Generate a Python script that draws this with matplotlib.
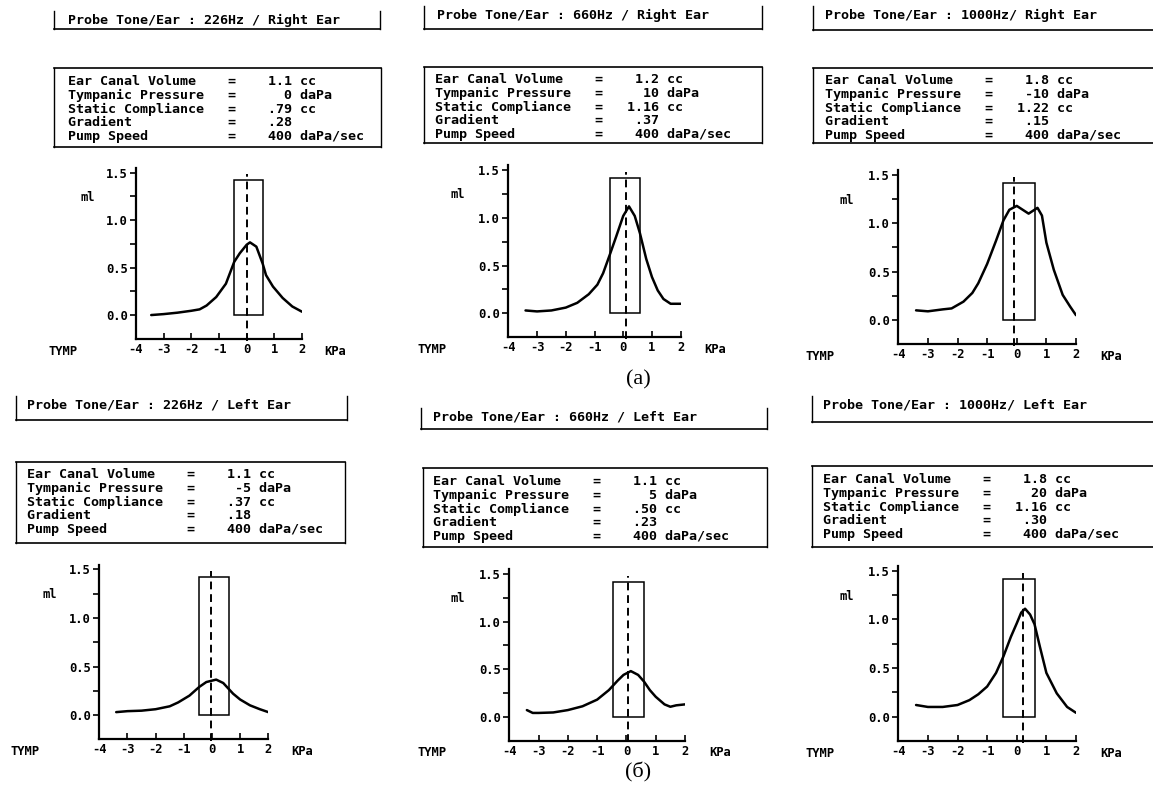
import matplotlib
matplotlib.use('Agg')
import matplotlib.pyplot as plt
from matplotlib.patches import Rectangle
from matplotlib.lines import Line2D

plt.rcParams['axes.unicode_minus'] = False
MONO = 'DejaVu Sans Mono'

# --- data (pressure kPa -> compliance ml) ---
probe_tones = ['226Hz / ', '660Hz / ', '1000Hz/ ', '226Hz / ', '660Hz / ', '1000Hz/ ']
ears = ['Right Ear', 'Right Ear', 'Right Ear', 'Left Ear', 'Left Ear', 'Left Ear']

ear_canal_volume = ['1.1', '1.2', '1.8', '1.1', '1.1', '1.8']
tympanic_pressure = [0, 10, -10, -5, 5, 20]          # daPa
static_compliance = ['.79', '1.16', '1.22', '.37', '.50', '1.16']
gradient = ['.28', '.37', '.15', '.18', '.23', '.30']
pump_speed = ['400', '400', '400', '400', '400', '400']

p1_x = [-3.45, -3.0, -2.5, -2.0, -1.7, -1.45, -1.1, -0.75, -0.45, -0.25, 0.0, 0.12, 0.35, 0.58, 0.7, 0.95, 1.3, 1.65, 2.0]
p1_y = [0.0, 0.01, 0.025, 0.045, 0.06, 0.10, 0.19, 0.33, 0.56, 0.65, 0.74, 0.765, 0.72, 0.54, 0.42, 0.30, 0.18, 0.09, 0.035]

p2_x = [-3.4, -3.0, -2.5, -2.0, -1.6, -1.2, -0.9, -0.7, -0.46, -0.25, 0.0, 0.2, 0.4, 0.58, 0.8, 1.0, 1.2, 1.4, 1.65, 2.0]
p2_y = [0.03, 0.02, 0.03, 0.06, 0.11, 0.20, 0.30, 0.42, 0.62, 0.80, 1.02, 1.12, 1.02, 0.84, 0.57, 0.38, 0.24, 0.15, 0.10, 0.10]

p3_x = [-3.4, -3.0, -2.5, -2.2, -1.8, -1.5, -1.3, -1.0, -0.7, -0.45, -0.25, 0.0, 0.2, 0.4, 0.55, 0.7, 0.85, 1.0, 1.25, 1.55, 1.8, 2.0]
p3_y = [0.10, 0.09, 0.11, 0.12, 0.19, 0.28, 0.38, 0.58, 0.82, 1.03, 1.14, 1.18, 1.14, 1.10, 1.13, 1.16, 1.08, 0.80, 0.52, 0.26, 0.14, 0.05]

p4_x = [-3.4, -3.0, -2.5, -2.0, -1.5, -1.2, -0.8, -0.45, -0.2, 0.15, 0.4, 0.75, 1.0, 1.35, 1.7, 2.0]
p4_y = [0.03, 0.04, 0.045, 0.06, 0.09, 0.13, 0.20, 0.29, 0.34, 0.365, 0.33, 0.22, 0.16, 0.10, 0.06, 0.03]

p5_x = [-3.4, -3.2, -3.0, -2.5, -2.0, -1.5, -1.0, -0.6, -0.3, -0.1, 0.15, 0.4, 0.6, 0.8, 1.0, 1.3, 1.5, 1.7, 2.0]
p5_y = [0.07, 0.04, 0.04, 0.045, 0.07, 0.11, 0.18, 0.28, 0.38, 0.44, 0.48, 0.44, 0.37, 0.28, 0.21, 0.13, 0.105, 0.12, 0.13]

p6_x = [-3.4, -3.0, -2.5, -2.0, -1.6, -1.3, -1.0, -0.7, -0.45, -0.2, 0.0, 0.15, 0.28, 0.45, 0.6, 0.78, 1.0, 1.35, 1.7, 2.0]
p6_y = [0.12, 0.10, 0.10, 0.12, 0.17, 0.23, 0.31, 0.45, 0.62, 0.82, 0.96, 1.07, 1.11, 1.05, 0.95, 0.72, 0.45, 0.24, 0.10, 0.04]

curves = [(p1_x, p1_y), (p2_x, p2_y), (p3_x, p3_y), (p4_x, p4_y), (p5_x, p5_y), (p6_x, p6_y)]

x_ticks = [-4, -3, -2, -1, 0, 1, 2]
y_ticks = [0.0, 0.5, 1.0, 1.5]
y_ticklabels = ['0.0', '0.5', '1.0', '1.5']
box_x = (-0.45, 0.6)   # normal range box
box_top = 1.42

# --- layout in pixels (figure is 1153 x 786) ---
W, H = 1153, 786
def fx(px):
    return px / W
def fy(py):
    return 1 - py / H

# axes: x at -4, x at 2, y at top (1.55), y at bottom (-0.25)
axes_px = [(136, 302, 167.8, 338.8), (508.3, 680.7, 165.3, 337.2), (898.3, 1076, 170.1, 344.2),
           (99.3, 268.3, 564.6, 739.3), (509.3, 685, 569.4, 740.5), (898.3, 1076, 565.9, 741.0)]
# header: left bar, right bar, text x, text y, bottom line y
header_px = [(54, 380, 68, 20, 29), (424, 762, 437, 15, 29), (813, 1165, 825, 15, 30),
             (16, 347, 27, 405, 420), (421, 767, 433, 417, 429), (812, 1165, 823, 405, 422)]
# info box: left, right, top, bottom, text x, middle row y
info_px = [(54, 381, 68, 147, 68, 109), (424, 762, 67, 143, 435, 107), (813, 1165, 68, 143, 825, 108),
           (16, 345, 462, 543, 27, 502), (423, 767, 468, 547, 433, 509), (812, 1165, 466, 547, 823, 507)]

fig = plt.figure(figsize=(W / 100, H / 100), dpi=100, facecolor='white')

def fig_line(x0, y0, x1, y1, lw=1.0):
    fig.add_artist(Line2D([fx(x0), fx(x1)], [fy(y0), fy(y1)], transform=fig.transFigure,
                          color='black', lw=lw))

labels = ['Ear Canal Volume', 'Tympanic Pressure', 'Static Compliance', 'Gradient', 'Pump Speed']

for i in range(6):
    x0, x1, y0, y1 = axes_px[i]
    ax = fig.add_axes([fx(x0), fy(y1), fx(x1) - fx(x0), (y1 - y0) / H])
    ax.set_facecolor('none')
    ax.set_xlim(-4, 2)
    ax.set_ylim(-0.25, 1.55)
    for s in ['top', 'right']:
        ax.spines[s].set_visible(False)
    ax.spines['left'].set_linewidth(1.6)
    ax.spines['bottom'].set_linewidth(1.6)
    ax.set_xticks(x_ticks)
    ax.set_xticklabels([str(t) for t in x_ticks], family=MONO, fontsize=8.7, fontweight='bold')
    ax.set_yticks(y_ticks)
    ax.set_yticklabels(y_ticklabels, family=MONO, fontsize=8.7, fontweight='bold')
    ax.set_yticks([0.25, 0.75, 1.25], minor=True)
    ax.tick_params(axis='y', which='both', direction='out', length=4, width=1.2, pad=2)
    ax.tick_params(axis='x', direction='in', length=4, width=1.2, pad=3)

    cx, cy = curves[i]
    ax.plot(cx, cy, color='black', lw=1.8, solid_capstyle='round', solid_joinstyle='round')
    ax.add_patch(Rectangle((box_x[0], 0), box_x[1] - box_x[0], box_top,
                           fill=False, edgecolor='black', lw=1.1))
    tp = tympanic_pressure[i] / 100.0
    ax.plot([tp, tp], [-0.27, 1.48], color='black', lw=1.4, ls=(0, (4, 2.5)), clip_on=False)

    ax.text(-5.75, 1.24, 'ml', family=MONO, fontsize=8.7, fontweight='bold', ha='center', va='center')
    ax.text(-6.65, -0.38, 'TYMP', family=MONO, fontsize=8.7, fontweight='bold',
            ha='center', va='center', clip_on=False)
    ax.text(3.2, -0.38, 'KPa', family=MONO, fontsize=8.7, fontweight='bold',
            ha='center', va='center', clip_on=False)

    # header box (top edge cut off)
    lb, rb, tx, ty, by = header_px[i]
    fig_line(lb, ty - 9, lb, by)
    fig_line(rb, ty - 9, rb, by)
    fig_line(lb, by, rb, by, lw=1.2)
    fig.text(fx(tx), fy(ty), 'Probe Tone/Ear : ' + probe_tones[i] + ears[i],
             family=MONO, fontsize=9.6, fontweight='bold', ha='left', va='center')

    # info box
    l, r, t, b, itx, my = info_px[i]
    fig_line(l, t, r, t, lw=1.2)
    fig_line(l, b, r, b, lw=1.2)
    fig_line(l, t, l, b)
    fig_line(r, t, r, b)
    values = [(ear_canal_volume[i], 'cc'), (str(tympanic_pressure[i]), 'daPa'),
              (static_compliance[i], 'cc'), (gradient[i], ''), (pump_speed[i], 'daPa/sec')]
    rows = [f'{lab:<20}={val:>7} {unit}'.rstrip() for lab, (val, unit) in zip(labels, values)]
    fig.text(fx(itx), fy(my), '\n'.join(rows), family=MONO, fontsize=9.6, fontweight='bold',
             ha='left', va='center', linespacing=1.06)

fig.text(fx(638), fy(380), '(a)', family='Liberation Serif', fontsize=16, ha='center', va='center')
fig.text(fx(638), fy(772), '(б)', family='Liberation Serif', fontsize=16, ha='center', va='center')

fig.savefig('out.png', dpi=100, facecolor='white')
